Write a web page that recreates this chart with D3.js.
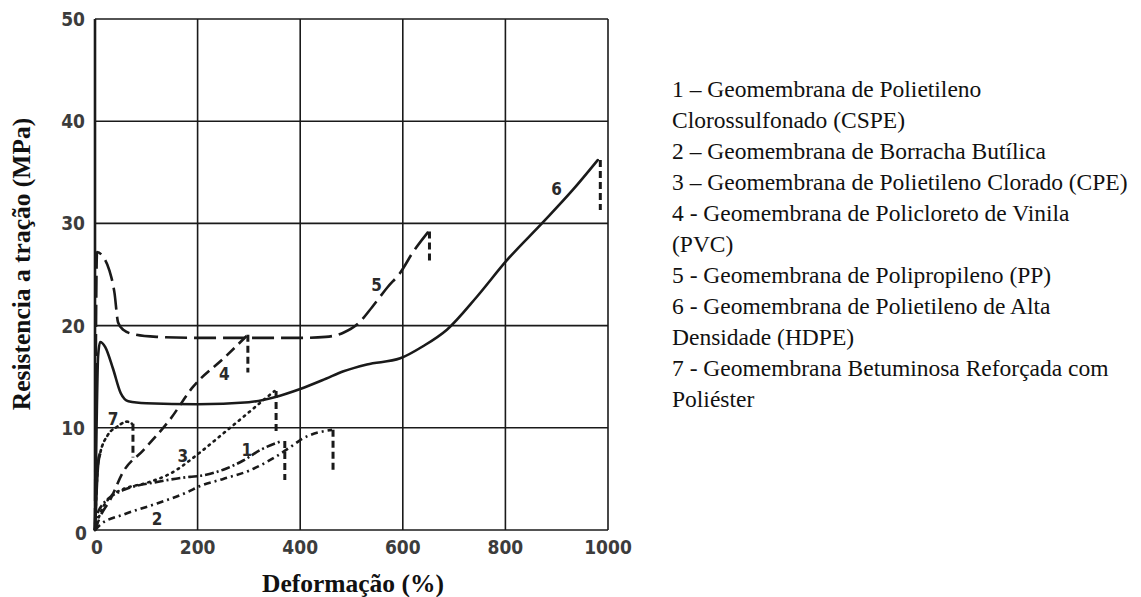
<!DOCTYPE html>
<html>
<head>
<meta charset="utf-8">
<script src="https://cdn.jsdelivr.net/npm/d3@7.9.0/dist/d3.min.js"></script>
<style>
  body { margin: 0; background: #fff; }
</style>
</head>
<body>
<script>
// tick values
const xTicks = [0, 200, 400, 600, 800, 1000];
const yTicks = [0, 10, 20, 30, 40, 50];

// curves: [deformation %, tensile strength MPa]
const curve1 = [[0,0],[5,1.6],[15,2.5],[29,3.2],[55,3.9],[121,4.7],[185,5.2],[205,5.3],[250,5.9],[289,6.8],[325,7.9],[364,8.7]];
const curve2 = [[0,0],[10,0.5],[55,1.5],[121,2.6],[180,3.7],[205,4.3],[250,5.0],[300,5.8],[350,7.1],[386,8.3],[400,8.8],[462,9.8]];
const curve3 = [[0,0],[10,1.6],[29,3.2],[55,4.0],[100,4.6],[146,5.5],[205,7.6],[244,9.2],[290,11.1],[328,12.7],[350,13.6]];
const curve4 = [[0,0],[12,1.5],[29,2.9],[55,5.7],[94,7.8],[146,10.8],[191,14.0],[253,16.9],[298,19.1]];
const curve5 = [[0,0],[1,10],[2,20],[4,27.2],[15,26.8],[28,25.4],[38,23.2],[45,20.3],[55,19.6],[80,19.1],[120,18.9],[200,18.8],[300,18.8],[400,18.8],[450,18.9],[484,19.3],[513,20.2],[540,21.8],[571,23.8],[594,25.1],[620,27.2],[650,29.2]];
const curve6 = [[0,0],[3,10],[6,17],[10,18.4],[20,17.9],[35,15.8],[50,13.4],[65,12.6],[100,12.4],[200,12.3],[300,12.5],[350,13.0],[400,13.8],[450,14.8],[483,15.5],[530,16.2],[595,16.8],[640,18.0],[686,19.6],[744,22.8],[803,26.4],[873,30.1],[930,33.2],[980,36.2]];
const curve7 = [[0,0],[3,4],[6,6.5],[10,7.5],[25,9.3],[43,10.1],[62,10.6],[72,10.4]];

// rupture drops: [x, top, bottom]
const breaks = [[370,8.7,4.9],[464,9.8,5.8],[353,13.6,9.6],[298,19.1,15.4],[652,29.2,26.0],[985,36.2,31.3],[74,10.4,7.1]];

// curve numbers and where they sit
const curveLabels = ["1","2","3","4","5","6","7"];
const labelPos = [[296,7.8],[121,1.1],[171,7.2],[252,15.3],[549,24.0],[900,33.4],[35,10.9]];

const legendLines = [
  "1 \u2013 Geomembrana de Polietileno",
  "Clorossulfonado (CSPE)",
  "2 \u2013 Geomembrana de Borracha Butílica",
  "3 \u2013 Geomembrana de Polietileno Clorado (CPE)",
  "4 - Geomembrana de Policloreto de Vinila",
  "(PVC)",
  "5 - Geomembrana de Polipropileno (PP)",
  "6 - Geomembrana de Polietileno de Alta",
  "Densidade (HDPE)",
  "7 - Geomembrana Betuminosa Reforçada com",
  "Poliéster"
];

const W = 1141, H = 597;
const svg = d3.select("body").append("svg")
    .attr("width", W)
    .attr("height", H);

const x = d3.scaleLinear().domain([0, 1000]).range([95, 608]);
const y = d3.scaleLinear().domain([0, 50]).range([530, 19]);

const ink = "#1a1a1a";
const tickFont = "'DejaVu Sans Condensed', 'DejaVu Sans', sans-serif";
const serif = "'Liberation Serif', 'Times New Roman', serif";

// grid
svg.append("g")
    .selectAll("line.v")
    .data(xTicks)
    .join("line")
    .attr("x1", d => x(d)).attr("x2", d => x(d))
    .attr("y1", y(0)).attr("y2", y(50))
    .attr("stroke", ink).attr("stroke-width", 1.6);

svg.append("g")
    .selectAll("line.h")
    .data(yTicks)
    .join("line")
    .attr("x1", x(0)).attr("x2", x(1000))
    .attr("y1", d => y(d)).attr("y2", d => y(d))
    .attr("stroke", ink).attr("stroke-width", 1.6);

// heavier left axis
svg.append("line")
    .attr("x1", x(0)).attr("x2", x(0))
    .attr("y1", y(0)).attr("y2", y(50))
    .attr("stroke", ink).attr("stroke-width", 2.6);

// tick labels
svg.append("g")
    .selectAll("text")
    .data(yTicks)
    .join("text")
    .attr("x", d => d === 0 ? x(0) - 8 : x(0) - 10)
    .attr("y", d => y(d) + (d === 0 ? 10 : 7))
    .attr("text-anchor", "end")
    .attr("font-family", tickFont)
    .attr("font-weight", "bold")
    .attr("font-size", 19)
    .attr("fill", "#3c3c3c")
    .text(d => d);

svg.append("g")
    .selectAll("text")
    .data(xTicks)
    .join("text")
    .attr("x", d => x(d) + (d === 0 ? 2 : 0))
    .attr("y", y(0) + 24)
    .attr("text-anchor", "middle")
    .attr("font-family", tickFont)
    .attr("font-weight", "bold")
    .attr("font-size", 19)
    .attr("fill", "#3c3c3c")
    .text(d => d);

// axis titles
svg.append("text")
    .attr("transform", "translate(30,264) rotate(-90)")
    .attr("text-anchor", "middle")
    .attr("font-family", serif)
    .attr("font-weight", "bold")
    .attr("font-size", 25.5)
    .attr("fill", "#111")
    .text("Resistencia a tração (MPa)");

svg.append("text")
    .attr("x", 353)
    .attr("y", 592)
    .attr("text-anchor", "middle")
    .attr("font-family", serif)
    .attr("font-weight", "bold")
    .attr("font-size", 25.5)
    .attr("fill", "#111")
    .text("Deformação (%)");

// curves
const line = d3.line()
    .x(d => x(d[0]))
    .y(d => y(d[1]))
    .curve(d3.curveMonotoneX);

const curves = [curve1, curve2, curve3, curve4, curve5, curve6, curve7];
const dashes = ["9,3,2,3", "7,4,2,4", "1.5,5", "11,6", "22,7", null, "2,4"];
const caps = ["butt", "butt", "round", "butt", "butt", "round", "round"];

svg.append("g")
    .selectAll("path")
    .data(curves)
    .join("path")
    .attr("d", line)
    .attr("fill", "none")
    .attr("stroke", ink)
    .attr("stroke-width", 2.6)
    .attr("stroke-linecap", (d, i) => caps[i])
    .attr("stroke-dasharray", (d, i) => dashes[i]);

// solid start of curve 7
svg.append("path")
    .attr("d", line(curve7.slice(0, 4)))
    .attr("fill", "none")
    .attr("stroke", ink)
    .attr("stroke-width", 3);

// rupture drops
svg.append("g")
    .selectAll("line")
    .data(breaks)
    .join("line")
    .attr("x1", d => x(d[0])).attr("x2", d => x(d[0]))
    .attr("y1", d => y(d[1])).attr("y2", d => y(d[2]))
    .attr("stroke", ink)
    .attr("stroke-width", 3)
    .attr("stroke-dasharray", "7,4");

// curve numbers
svg.append("g")
    .selectAll("text")
    .data(curveLabels)
    .join("text")
    .attr("x", (d, i) => x(labelPos[i][0]))
    .attr("y", (d, i) => y(labelPos[i][1]) + 6)
    .attr("text-anchor", "middle")
    .attr("font-family", tickFont)
    .attr("font-weight", "bold")
    .attr("font-size", 17)
    .attr("fill", "#2a2a2a")
    .text(d => d);

// legend text on the right
svg.append("g")
    .selectAll("text")
    .data(legendLines)
    .join("text")
    .attr("x", 672)
    .attr("y", (d, i) => 97 + i * 31)
    .attr("font-family", serif)
    .attr("font-size", 23.5)
    .attr("fill", "#111")
    .text(d => d);
</script>
</body>
</html>
